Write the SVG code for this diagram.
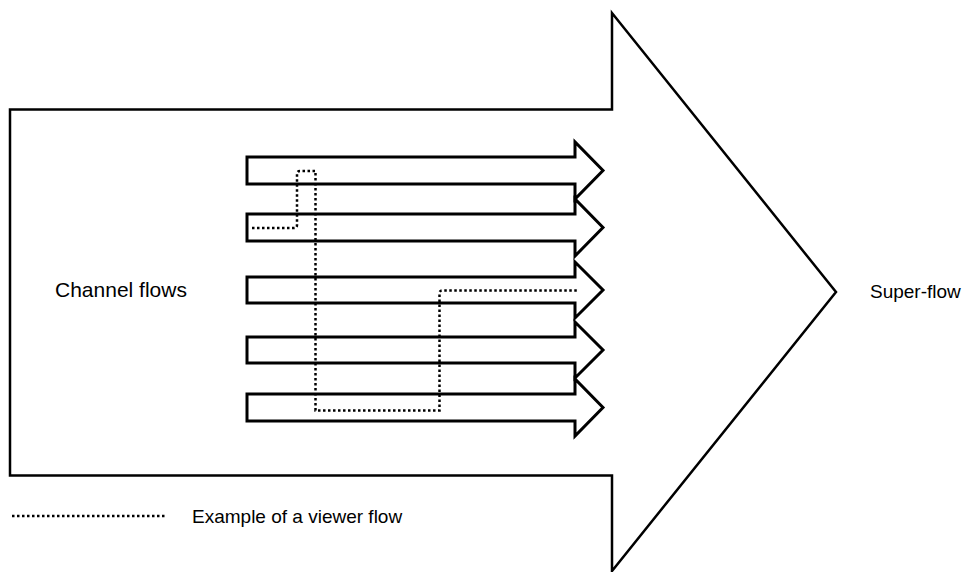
<svg xmlns="http://www.w3.org/2000/svg" width="978" height="572" viewBox="0 0 978 572">
<style>
.big{fill:#fff;stroke:#000;stroke-width:2.5;stroke-linejoin:miter}
.ch{fill:#fff;stroke:#000;stroke-width:3;stroke-linejoin:miter}
.dot{fill:none;stroke:#000;stroke-width:2.5;stroke-dasharray:2.5 2.5}
.lbl{font-family:"Liberation Sans",Arial,sans-serif;font-size:19px;fill:#000}
</style>
<rect width="978" height="572" fill="#fff"/>
<g id="super-flow">
<path class="big" d="M10 109.5 H612 V13 L836 292 L612 571 V475.5 H10 Z"/>
</g>
<g id="channel-1"><path class="ch" d="M247 157 H575 V142 L603 170.5 L575 199 V184 H247 Z"/></g>
<g id="channel-2"><path class="ch" d="M247 214 H575 V199 L603 227.5 L575 256 V241 H247 Z"/></g>
<g id="channel-3"><path class="ch" d="M247 277 H575 V262 L603 290 L575 318 V303 H247 Z"/></g>
<g id="channel-4"><path class="ch" d="M247 337 H575 V322 L603 350 L575 378 V363 H247 Z"/></g>
<g id="channel-5"><path class="ch" d="M247 394 H575 V379 L603 407.5 L575 436 V421 H247 Z"/></g>
<g id="connectors">
<path class="dot" d="M252 228 H294 Q297 228 297 225 V174 Q297 171 300 171 H315.5 V410.5 H439.5 V293.5 Q439.5 290.5 442.5 290.5 H577"/>
<path class="dot" d="M12 516 H167"/>
</g>
<g id="labels">
<text class="lbl" x="55" y="297" style="font-size:21px">Channel flows</text>
<text class="lbl" x="870" y="298">Super-flow</text>
<text class="lbl" x="192" y="523">Example of a viewer flow</text>
</g>
</svg>
